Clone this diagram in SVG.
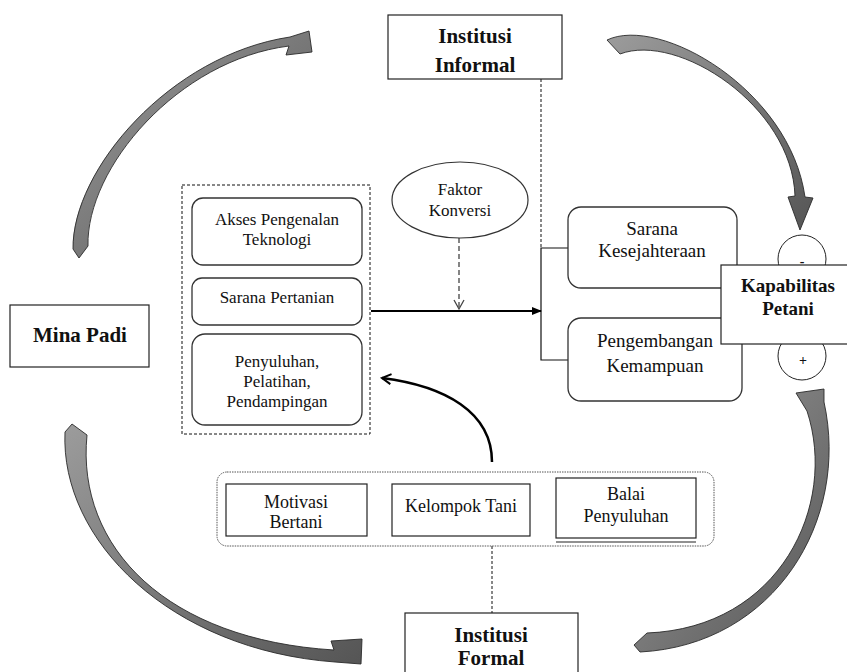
<svg xmlns="http://www.w3.org/2000/svg" width="847" height="672" viewBox="0 0 847 672" font-family="Liberation Serif, Times New Roman, serif">
<style>
  text{font-family:'Liberation Serif','Times New Roman',Times,serif}
  .t{fill:#111;text-anchor:middle}
  .r17{font-size:17px}
  .r18{font-size:18px}
  .r19{font-size:19px}
  .b{font-weight:bold}
  .box{fill:#fff;stroke:#222;stroke-width:1.2}
  .rbox{fill:#fff;stroke:#333;stroke-width:1.3}
  .garrow{fill:url(#gg);stroke:#2a2a2a;stroke-width:0.9;stroke-linejoin:round}
</style>
<defs>
  <linearGradient id="gg" x1="0" y1="0" x2="1" y2="1">
    <stop offset="0" stop-color="#9c9c9c"/>
    <stop offset="1" stop-color="#555"/>
  </linearGradient>
  <marker id="ah" markerWidth="10" markerHeight="10" refX="9" refY="5" orient="auto" markerUnits="userSpaceOnUse">
    <path d="M0,1 L10,5 L0,9 Z" fill="#000"/>
  </marker>
  <marker id="vh" markerWidth="12" markerHeight="12" refX="10" refY="6" orient="auto" markerUnits="userSpaceOnUse">
    <path d="M1,1 L10,6 L1,11" fill="none" stroke="#000" stroke-width="2"/>
  </marker>
  <marker id="dv" markerWidth="12" markerHeight="12" refX="10" refY="6" orient="auto" markerUnits="userSpaceOnUse">
    <path d="M1,1 L10,6 L1,11" fill="none" stroke="#444" stroke-width="1.3"/>
  </marker>
</defs>
<rect width="847" height="672" fill="#fff"/>

<g id="big-arrows">
  <path class="garrow" d="M73,249 C72,170 170,55 290,37 L309,31 L312,52 L286,55 L289,46 C178,60 86,168 88,246 L79,258 Z"/>
  <path class="garrow" d="M607,40 C660,15 790,90 805,197 L813,198 L800,230 L788,197 L795,196 C792,106 678,32 620,54 Z"/>
  <path class="garrow" d="M65,432 C60,540 170,650 335,662 L361,664 L362,639 L331,641 L334,650 C168,640 76,548 87,435 L72,424 Z"/>
  <path class="garrow" d="M640,652 C775,645 850,520 824,402 L824,389 L796,393 L807,411 C838,505 780,628 647,633 L634,645 Z"/>
</g>

<g id="connectors" fill="none">
  <line x1="541" y1="79" x2="541" y2="248" stroke="#111" stroke-width="1" stroke-dasharray="3,2"/>
  <polyline points="568,248 541,248 541,360 568,360" stroke="#111" stroke-width="1.2"/>
  <line x1="371" y1="311" x2="541" y2="311" stroke="#000" stroke-width="2" marker-end="url(#ah)"/>
  <line x1="459" y1="238" x2="459" y2="309" stroke="#444" stroke-width="1.3" stroke-dasharray="5,3" marker-end="url(#dv)"/>
  <path d="M492,462 C492,412 445,386 382,378" stroke="#000" stroke-width="2.5" marker-end="url(#vh)"/>
  <line x1="492" y1="546" x2="492" y2="613" stroke="#111" stroke-width="1" stroke-dasharray="3,2"/>
</g>

<g id="institusi-informal">
  <rect class="box" x="388" y="15" width="174" height="64"/>
  <text class="t b" font-size="21" x="475" y="43">Institusi</text>
  <text class="t b" font-size="21" x="475" y="72">Informal</text>
</g>

<g id="mina-padi">
  <rect class="box" x="10" y="305" width="139" height="62"/>
  <text class="t b" font-size="21" x="80" y="342">Mina Padi</text>
</g>

<g id="institusi-formal">
  <rect class="box" x="405" y="613" width="173" height="70"/>
  <text class="t b" font-size="21" x="491" y="642">Institusi</text>
  <text class="t b" font-size="21" x="491" y="665">Formal</text>
</g>

<g id="sumber-daya">
  <rect x="182" y="185" width="188" height="249" fill="none" stroke="#111" stroke-width="1" stroke-dasharray="3,2"/>
  <g id="akses">
    <rect class="rbox" x="192" y="198" width="170" height="67" rx="11"/>
    <text class="t r17" x="277" y="225">Akses Pengenalan</text>
    <text class="t r17" x="277" y="245">Teknologi</text>
  </g>
  <g id="sarana-pertanian">
    <rect class="rbox" x="192" y="278" width="170" height="47" rx="10"/>
    <text class="t r17" x="277" y="303">Sarana Pertanian</text>
  </g>
  <g id="penyuluhan">
    <rect class="rbox" x="192" y="334" width="170" height="91" rx="13"/>
    <text class="t r17" x="277" y="367">Penyuluhan,</text>
    <text class="t r17" x="277" y="387">Pelatihan,</text>
    <text class="t r17" x="277" y="407">Pendampingan</text>
  </g>
</g>

<g id="faktor-konversi">
  <ellipse cx="460" cy="200" rx="68" ry="38" fill="#fff" stroke="#333" stroke-width="1.2"/>
  <text class="t r17" x="460" y="195">Faktor</text>
  <text class="t r17" x="460" y="216">Konversi</text>
</g>

<g id="sarana-kesejahteraan">
  <rect class="rbox" x="568" y="207" width="169" height="81" rx="13"/>
  <text class="t r19" x="652" y="235">Sarana</text>
  <text class="t r19" x="652" y="257">Kesejahteraan</text>
</g>

<g id="pengembangan">
  <rect class="rbox" x="568" y="318" width="174" height="83" rx="13"/>
  <text class="t r19" x="655" y="347">Pengembangan</text>
  <text class="t r19" x="655" y="372">Kemampuan</text>
</g>

<g id="minus">
  <circle cx="802" cy="259" r="24" fill="#fff" stroke="#222" stroke-width="1"/>
  <text class="t b" font-size="14" x="802" y="266">-</text>
</g>
<g id="plus">
  <circle cx="802" cy="356" r="24" fill="#fff" stroke="#222" stroke-width="1"/>
  <text class="t b" font-size="14" x="803" y="365">+</text>
</g>

<g id="kapabilitas">
  <rect class="box" x="721" y="265" width="140" height="79"/>
  <text class="t b" font-size="19" x="788" y="292">Kapabilitas</text>
  <text class="t b" font-size="19" x="788" y="315">Petani</text>
</g>

<g id="kelembagaan">
  <rect x="217" y="472" width="497" height="74" rx="10" fill="none" stroke="#555" stroke-width="1" stroke-dasharray="1.5,1"/>
  <g id="motivasi">
    <rect class="box" x="226" y="484" width="141" height="52"/>
    <text class="t r18" x="296" y="508">Motivasi</text>
    <text class="t r18" x="296" y="528">Bertani</text>
  </g>
  <g id="kelompok-tani">
    <rect class="box" x="392" y="484" width="138" height="52"/>
    <text class="t r18" x="461" y="512">Kelompok Tani</text>
  </g>
  <g id="balai">
    <rect class="box" x="556" y="478" width="140" height="60"/>
    <line x1="556" y1="542" x2="696" y2="542" stroke="#222" stroke-width="1.2"/>
    <text class="t r18" x="626" y="500">Balai</text>
    <text class="t r18" x="626" y="522">Penyuluhan</text>
  </g>
</g>
</svg>
